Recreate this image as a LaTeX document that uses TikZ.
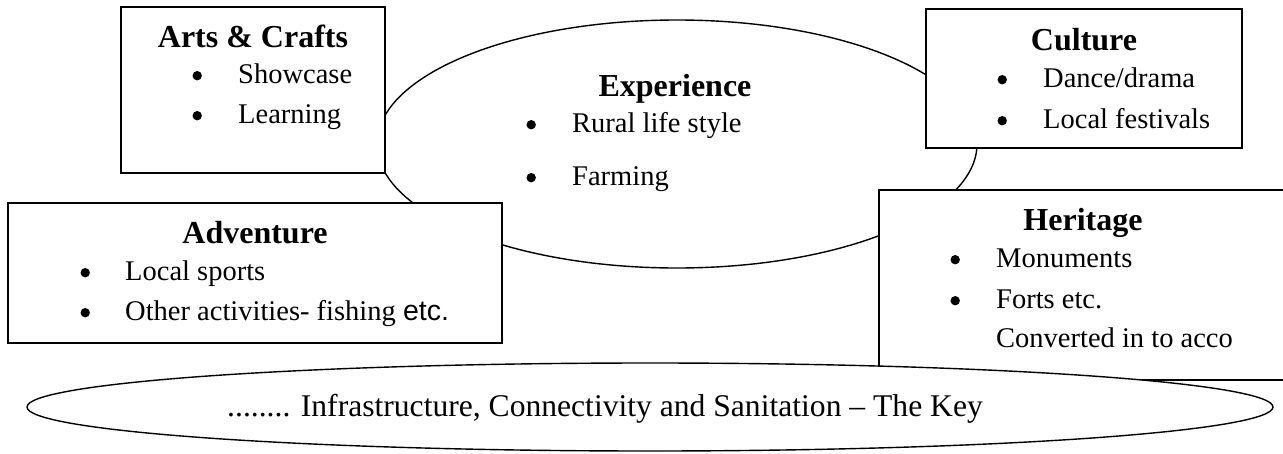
\documentclass[tikz,border=0pt]{standalone}
\usepackage{fontspec}
\setmainfont{Liberation Serif}
\newfontfamily\sansf{Liberation Sans}
\usetikzlibrary{shapes.geometric}
\newcommand\bdot{\makebox[0pt]{\raisebox{2.6pt}{\tikz\fill[black] (0,0) circle (4.7pt);}}}
\newcommand\blt[2][41pt]{\bdot\hspace{#1}#2}
\begin{document}
\begin{tikzpicture}[x=1pt,y=-1pt,
  outline/.style={draw, line width=1.4pt, fill=white, inner sep=0pt, outer sep=0pt},
  box/.style={outline, rectangle},
  oval/.style={outline, ellipse},
  head/.style={anchor=base, inner sep=0pt, font=\fontsize{32}{38}\selectfont\bfseries},
  item/.style={anchor=base west, inner sep=0pt, font=\fontsize{28.5}{34}\selectfont},
  keytext/.style={anchor=base west, inner sep=0pt, font=\fontsize{31.6}{37}\selectfont}]
\useasboundingbox (0,0) rectangle (1283,453);
\clip (0,0) rectangle (1283,453);
% shapes
\node[oval, minimum width=600pt, minimum height=248pt] (exp) at (677,144) {};
\node[box, minimum width=264pt, minimum height=166pt] (arts) at (253,90) {};
\node[box, minimum width=316pt, minimum height=139pt] (cult) at (1084,78.5) {};
\node[box, minimum width=494pt, minimum height=140pt] (adv) at (255,273) {};
\node[box, minimum width=421pt, minimum height=190pt] (her) at (1089.5,285) {};
\node[oval, minimum width=1246pt, minimum height=88pt] (key) at (650,407) {};
% Arts & Crafts
\node[head] (artsh) at (253,47) {Arts \& Crafts};
\node[item] (arts1) at (197,83) {\blt{Showcase}};
\node[item] (arts2) at (197,123) {\blt{Learning}};
% Experience
\node[head] (exph) at (675,96) {Experience};
\node[item] (exp1) at (531,132) {\blt{Rural life style}};
\node[item] (exp2) at (531,185) {\blt{Farming}};
% Culture
\node[head] (culth) at (1084,50) {Culture};
\node[item] (cult1) at (1002,87) {\blt{Dance/drama}};
\node[item] (cult2) at (1002,128) {\blt{Local festivals}};
% Adventure
\node[head] (advh) at (255,243) {Adventure};
\node[item] (adv1) at (85,280) {\blt[40pt]{Local sports}};
\node[item] (adv2) at (85,320) {\blt[40pt]{Other activities- fishing {\sansf etc.}}};
% Heritage
\node[head] (herh) at (1083,230) {Heritage};
\node[item] (her1) at (955,267) {\blt{Monuments}};
\node[item] (her2) at (955,308) {\blt{Forts etc.}};
\node[item] (her3) at (996,347) {Converted in to acco};
% Key
\node[keytext] (keyt) at (227,416) {........ Infrastructure, Connectivity and Sanitation -- The Key};
\end{tikzpicture}
\end{document}
